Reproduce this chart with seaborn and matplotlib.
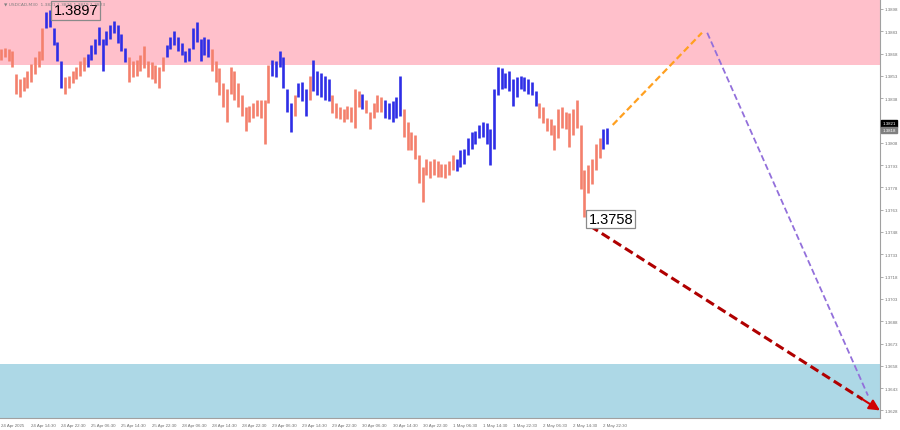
import numpy as np
import pandas as pd
import matplotlib
matplotlib.use("Agg")
import matplotlib.pyplot as plt
import seaborn as sns
from matplotlib.patches import FancyArrowPatch
from matplotlib.transforms import blended_transform_factory

# ---------------- data ----------------
symbol_title = "\u25bc USDCAD,M30  1.3821 1.3826 1.3819 1.3823"

bar_high = [
    1.3871, 1.3872, 1.3871, 1.3870, 1.3854, 1.3851, 1.3852, 1.3856, 1.3861, 1.3866,
    1.3870, 1.3885, 1.3896, 1.3897, 1.3885, 1.3876, 1.3863, 1.3852, 1.3853, 1.3856,
    1.3859, 1.3863, 1.3866, 1.3868, 1.3874, 1.3878, 1.3886, 1.3878, 1.3883, 1.3887,
    1.3890, 1.3887, 1.3881, 1.3872, 1.3866, 1.3863, 1.3864, 1.3867, 1.3873, 1.3863,
    1.3862, 1.3860, 1.3859, 1.3866, 1.3874, 1.3879, 1.3883, 1.3879, 1.3875, 1.3870,
    1.3872, 1.3885, 1.3889, 1.3878, 1.3879, 1.3878, 1.3871, 1.3863, 1.3858, 1.3848,
    1.3844, 1.3859, 1.3856, 1.3848, 1.3840, 1.3832, 1.3833, 1.3835, 1.3837, 1.3837,
    1.3837, 1.3860, 1.3864, 1.3863, 1.3870, 1.3866, 1.3844, 1.3835, 1.3840, 1.3848,
    1.3849, 1.3844, 1.3853, 1.3864, 1.3856, 1.3855, 1.3853, 1.3851, 1.3840, 1.3835,
    1.3832, 1.3831, 1.3833, 1.3832, 1.3844, 1.3843, 1.3841, 1.3837, 1.3829, 1.3835,
    1.3840, 1.3839, 1.3837, 1.3835, 1.3836, 1.3839, 1.3853, 1.3831, 1.3822, 1.3815,
    1.3813, 1.3800, 1.3792, 1.3797, 1.3796, 1.3797, 1.3796, 1.3794, 1.3794, 1.3796,
    1.3800, 1.3797, 1.3803, 1.3804, 1.3811, 1.3815, 1.3816, 1.3820, 1.3822, 1.3821,
    1.3817, 1.3844, 1.3859, 1.3858, 1.3855, 1.3856, 1.3851, 1.3852, 1.3853, 1.3852,
    1.3851, 1.3849, 1.3843, 1.3835, 1.3832, 1.3825, 1.3824, 1.3820, 1.3831, 1.3832,
    1.3829, 1.3828, 1.3831, 1.3837, 1.3820, 1.3790, 1.3793, 1.3797, 1.3807, 1.3811,
    1.3817, 1.3818,
]
bar_low = [
    1.3864, 1.3866, 1.3863, 1.3859, 1.3841, 1.3839, 1.3843, 1.3845, 1.3849, 1.3854,
    1.3859, 1.3864, 1.3885, 1.3886, 1.3874, 1.3863, 1.3845, 1.3841, 1.3845, 1.3848,
    1.3851, 1.3853, 1.3856, 1.3859, 1.3864, 1.3868, 1.3874, 1.3856, 1.3874, 1.3878,
    1.3882, 1.3875, 1.3870, 1.3862, 1.3849, 1.3852, 1.3853, 1.3856, 1.3858, 1.3852,
    1.3851, 1.3848, 1.3845, 1.3856, 1.3866, 1.3871, 1.3874, 1.3870, 1.3867, 1.3862,
    1.3863, 1.3871, 1.3876, 1.3863, 1.3867, 1.3866, 1.3856, 1.3849, 1.3840, 1.3832,
    1.3822, 1.3841, 1.3837, 1.3832, 1.3826, 1.3816, 1.3822, 1.3825, 1.3826, 1.3825,
    1.3807, 1.3835, 1.3853, 1.3852, 1.3859, 1.3845, 1.3829, 1.3815, 1.3826, 1.3839,
    1.3836, 1.3826, 1.3837, 1.3843, 1.3840, 1.3839, 1.3837, 1.3836, 1.3828, 1.3825,
    1.3824, 1.3822, 1.3824, 1.3822, 1.3818, 1.3832, 1.3831, 1.3828, 1.3817, 1.3825,
    1.3829, 1.3829, 1.3825, 1.3824, 1.3822, 1.3825, 1.3826, 1.3812, 1.3803, 1.3803,
    1.3797, 1.3781, 1.3768, 1.3786, 1.3784, 1.3786, 1.3785, 1.3785, 1.3784, 1.3786,
    1.3790, 1.3789, 1.3792, 1.3794, 1.3800, 1.3804, 1.3807, 1.3811, 1.3812, 1.3807,
    1.3793, 1.3804, 1.3840, 1.3844, 1.3845, 1.3843, 1.3833, 1.3839, 1.3844, 1.3843,
    1.3841, 1.3840, 1.3833, 1.3825, 1.3821, 1.3816, 1.3813, 1.3803, 1.3811, 1.3818,
    1.3817, 1.3805, 1.3813, 1.3818, 1.3777, 1.3758, 1.3774, 1.3780, 1.3790, 1.3798,
    1.3804, 1.3807,
]
# wave direction of each bar: S = salmon (down), B = blue (up); (code, number of bars)
trend_runs = [("S", 12), ("B", 5), ("S", 6), ("B", 11), ("S", 10), ("B", 12),
              ("S", 16), ("B", 6), ("S", 1), ("B", 3), ("S", 1), ("B", 5),
              ("S", 8), ("B", 1), ("S", 5), ("B", 5), ("S", 14), ("B", 22),
              ("S", 17), ("B", 2)]

time_labels = ["24 Apr 2025", "24 Apr 14:30", "24 Apr 22:30", "25 Apr 06:30",
               "25 Apr 14:30", "25 Apr 22:30", "28 Apr 06:30", "28 Apr 14:30",
               "28 Apr 22:30", "29 Apr 06:30", "29 Apr 14:30", "29 Apr 22:30",
               "30 Apr 06:30", "30 Apr 14:30", "30 Apr 22:30", "1 May 06:30",
               "1 May 14:30", "1 May 22:30", "2 May 06:30", "2 May 14:30",
               "2 May 22:30"]
bars_per_label = 8

price_ticks = [1.3628, 1.3643, 1.3658, 1.3673, 1.3688, 1.3703, 1.3718, 1.3733,
               1.3748, 1.3763, 1.3778, 1.3793, 1.3808, 1.3823, 1.3838, 1.3853,
               1.3868, 1.3883, 1.3898]

resistance_zone = (1.3860, 1.3910)
support_zone = (1.3600, 1.3659)

bid_price = 1.3821
ask_price = 1.3818

# forecast paths (bar index, price)
orange_x = [162.5, 186.2]
orange_y = [1.3820, 1.3882]
purple_x = [187.6, 230.3]
purple_y = [1.3882, 1.3638]
red_x = [156.5, 233.5]
red_y = [1.3752, 1.3628]

# ---------------- figure ----------------
sns.set_style("white")
plt.rcParams["font.family"] = ["Liberation Sans", "DejaVu Sans"]

W, H = 900, 431
fig = plt.figure(figsize=(W / 100, H / 100), dpi=100)
ax = fig.add_axes([0, 12 / H, 880 / W, 419 / H])

x_min, x_max = -0.27, 233.5
y_min, y_max = 1.36229, 1.39047
ax.set_xlim(x_min, x_max)
ax.set_ylim(y_min, y_max)

ax.axhspan(*resistance_zone, color="#FFC0CB", zorder=0, lw=0)
ax.axhspan(*support_zone, color="#ADD8E6", zorder=0, lw=0)

codes = "".join(c * n for c, n in trend_runs)
df = pd.DataFrame({"idx": np.arange(len(bar_high)), "high": bar_high,
                   "low": bar_low, "trend": list(codes)})
palette = {"S": "#F4806C", "B": "#2E2EE6"}
for t, g in df.groupby("trend"):
    ax.vlines(g["idx"], g["low"], g["high"], color=palette[t], lw=1.9, zorder=2)

# forecast lines
sns.lineplot(x=orange_x, y=orange_y, ax=ax, color="#FFA020", lw=1.6,
             linestyle=(0, (3, 1.6)), zorder=3)
sns.lineplot(x=purple_x, y=purple_y, ax=ax, color="#9370DB", lw=1.3,
             linestyle=(0, (3.5, 1.8)), zorder=3)
# red line stops short; arrow head at the end
frac = 0.94
rx_end = red_x[0] + (red_x[1] - red_x[0]) * frac
ry_end = red_y[0] + (red_y[1] - red_y[0]) * frac
sns.lineplot(x=[red_x[0], rx_end], y=[red_y[0], ry_end], ax=ax, color="#B00000",
             lw=2.2, linestyle=(0, (3, 1.5)), zorder=3)
arrow = FancyArrowPatch((rx_end, ry_end), (red_x[1], red_y[1]),
                        arrowstyle="-|>", mutation_scale=16, color="#D00000",
                        lw=1.5, zorder=4, shrinkA=0, shrinkB=0)
ax.add_patch(arrow)

# extreme labels
i_max = int(np.argmax(bar_high))
i_min = int(np.argmin(bar_low))
box = dict(boxstyle="square,pad=0.15", fc="none", ec="#8a8a8a", lw=0.9)
ax.annotate(f"{bar_high[i_max]:.4f}", xy=(i_max, bar_high[i_max]),
            xytext=(2.5, 0), textcoords="offset points", ha="left", va="center",
            fontsize=10.5, color="black", bbox=box, zorder=5)
ax.annotate(f"{bar_low[i_min]:.4f}", xy=(i_min, bar_low[i_min]),
            xytext=(3, -1.5), textcoords="offset points", ha="left", va="center",
            fontsize=10.5, color="black", bbox=dict(box, fc="white"), zorder=5)

# axes styling
for s in ["top", "left"]:
    ax.spines[s].set_visible(False)
for s in ["right", "bottom"]:
    ax.spines[s].set_color("#a0a0a0")
    ax.spines[s].set_linewidth(0.8)

ax.yaxis.tick_right()
ax.set_yticks(price_ticks)
ax.set_yticklabels([f"{p:.4f}" for p in price_ticks])
ax.tick_params(axis="y", which="both", direction="out", length=2, width=0.6,
               color="#a0a0a0", labelsize=3.2, labelcolor="#707070", pad=1.5)

xt = [i * bars_per_label for i in range(len(time_labels))]
ax.set_xticks(xt)
ax.set_xticklabels(time_labels, ha="left")
ax.tick_params(axis="x", which="both", direction="out", length=2.5, width=0.6,
               color="#a0a0a0", labelsize=3.2, labelcolor="#707070", pad=1)
for lab in ax.get_xticklabels():
    lab.set_x(lab.get_position()[0])
ax.set_xlabel("")
ax.set_ylabel("")

trans = blended_transform_factory(ax.transAxes, ax.transData)
ax.text(1.003, bid_price, f"{bid_price:.4f}", transform=trans, fontsize=3.2,
        color="white", ha="left", va="center",
        bbox=dict(boxstyle="square,pad=0.3", fc="black", ec="black"), zorder=6,
        clip_on=False)
ax.text(1.003, ask_price, f"{ask_price:.4f}", transform=trans, fontsize=3.2,
        color="white", ha="left", va="top",
        bbox=dict(boxstyle="square,pad=0.3", fc="#808080", ec="#808080"), zorder=6,
        clip_on=False)

fig.text(4 / W, 1 - 5 / H, symbol_title, fontsize=3.2, color="#808080",
         ha="left", va="center", family=["DejaVu Sans"])

fig.savefig("out.png", dpi=100)
